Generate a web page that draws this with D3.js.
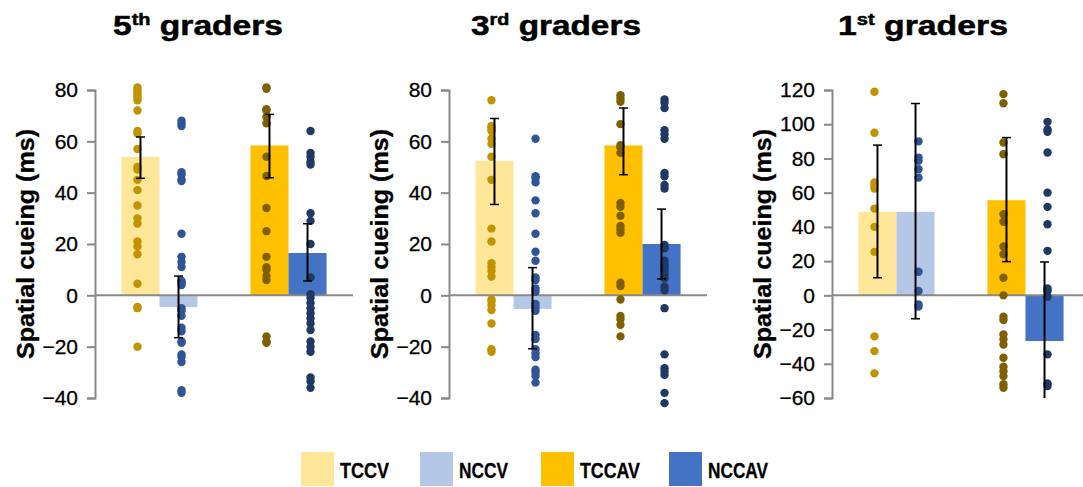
<!DOCTYPE html>
<html>
<head>
<meta charset="utf-8">
<script src="https://cdn.jsdelivr.net/npm/d3@7"></script>
<style>
  body { margin: 0; background: #fff; }
  svg { display: block; }
</style>
</head>
<body>
<svg id="chart" width="1083" height="487"></svg>
<script>
// ---- data ----
var grades = ['5', '3', '1'];
var gradeSups = ['th', 'rd', 'st'];
var conditions = ['CV', 'CAV'];
var seriesNames = ['TCCV', 'NCCV', 'TCCAV', 'NCCAV'];

var yDomains = [[-40, 80], [-40, 80], [-60, 120]];
var tickValues = [
  [-40, -20, 0, 20, 40, 60, 80],
  [-40, -20, 0, 20, 40, 60, 80],
  [-60, -40, -20, 0, 20, 40, 60, 80, 100, 120]
];

// bar means per panel, order TCCV, NCCV, TCCAV, NCCAV
var means5 = [54, -4.6, 58.4, 16.5];
var means3 = [52.4, -5.3, 58.4, 20];
var means1 = [48.8, 48.8, 55.6, -26.7];

// error bar [low, high]
var err5 = [[45.6, 61.7], [-16.5, 7.5], [45.8, 70.5], [5.6, 27.9]];
var err3 = [[35.4, 68.9], [-20.8, 10.8], [47, 73], [6.4, 33.6]];
var err1 = [[10.3, 87.8], [-13.7, 112.1], [19.7, 92.2], [-73, 19.5]];

// individual children
var dots5 = [
  [81, 80, 79, 78, 77, 76, 72, 64, 63, 57, 50, 49, 45, 41, 35, 30, 28, 21, 19, 16, 4.5, -4.5, -5, -20],
  [68, 67, 66, 48, 47, 45, 44.5, 24, 15, 13, 11, 5.6, 5, 4, -5, -6, -8, -12.6, -14, -18, -18.5, -23, -24, -26, -37, -38],
  [81, 80.5, 72.5, 72, 69.5, 67, 54, 46.5, 34, 25, 15, 11, 10, 7.5, 6, -16, -18, -18.5],
  [64, 55.5, 54, 52, 51, 32, 29, 20, 7, 0.4, -1, -3, -5, -7, -9, -11, -13.5, -18, -20, -22, -32, -33.5, -36]
];
var dots3 = [
  [76, 66, 65, 64, 61, 59, 54, 45, 26, 21, 12.5, 11, 9.5, 7.3, -1.6, -2.5, -4, -5.7, -11, -21, -22],
  [61, 46.4, 45.5, 44, 37, 32, 24, 17, 13.5, 7, 6, 2.7, 1.4, -3.4, -4.7, -6, -15.4, -17, -21, -22.6, -24, -29, -30, -31.4, -34],
  [78, 76.7, 75.4, 66.7, 58.5, 57.6, 55.5, 36, 34.5, 31, 27, 25.7, 24.4, 4.9, 3.6, -1.6, -8, -9.3, -11.5, -16],
  [76.3, 75, 73, 64.3, 62.8, 61, 47.7, 46.4, 43, 41.6, 19.6, 18.3, 13.5, 12, 11, 9.6, 8, 6.6, 3.4, 2, -5, -23, -28.4, -29.7, -31, -38, -42]
];
var dots1 = [
  [119, 95, 66, 64.4, 62.4, 50.7, 40, 25.4, -24, -32.6, -45.6],
  [90, 80.5, 78.6, 73.7, 68.8, 13.8, 2.5, -5.3, -6.6],
  [117.6, 112.3, 89.3, 82.5, 47.4, 43, 28.5, 24, 10.3, 0, -12.5, -14.4, -22.8, -25.7, -28.7, -36.5, -41.7, -44.3, -47.2, -52, -54],
  [101.4, 97, 95.6, 83.5, 60, 51.7, 41.5, 26, 4, 2.5, -0.8, -34.5, -51.5, -53]
];

var barColors = ['#FFE699', '#B4C7E7', '#FFC000', '#4472C4'];
var dotColors = ['#C29300', '#2F5597', '#7F6000', '#203864'];

// ---- layout ----
var axisXs = [95, 449, 832];
var titleCenters = [198, 556, 923];
var plotW = 258;
var yTop = 90;
var yBottom = 398;
var axisGrey = '#898989';
var fontFamily = '"Liberation Sans", Arial, sans-serif';

var panels = [
  { means: means5, err: err5, dots: dots5 },
  { means: means3, err: err3, dots: dots3 },
  { means: means1, err: err1, dots: dots1 }
];

var svg = d3.select('#chart');

panels.forEach(function(p, i) {
  var ax = axisXs[i];
  var g = svg.append('g').attr('class', 'panel panel-' + i);

  var y = d3.scaleLinear().domain(yDomains[i]).range([yBottom, yTop]);
  var x0 = d3.scaleBand()
    .domain(conditions)
    .range([ax, ax + plotW])
    .paddingInner(0.41)
    .paddingOuter(0.205);
  var x1 = d3.scaleBand().domain([0, 1]).range([0, x0.bandwidth()]);

  var items = seriesNames.map(function(name, s) {
    var left = x0(conditions[s < 2 ? 0 : 1]) + x1(s % 2);
    return {
      s: s,
      left: left,
      cx: left + x1.bandwidth() / 2,
      mean: p.means[s],
      err: p.err[s],
      dots: p.dots[s]
    };
  });

  // bars
  g.selectAll('rect.bar')
    .data(items)
    .enter().append('rect')
    .attr('class', 'bar')
    .attr('x', function(d) { return d.left; })
    .attr('width', x1.bandwidth())
    .attr('y', function(d) { return Math.min(y(d.mean), y(0)); })
    .attr('height', function(d) { return Math.abs(y(d.mean) - y(0)); })
    .attr('fill', function(d) { return barColors[d.s]; });

  // y axis
  var axis = g.append('g')
    .attr('transform', 'translate(' + ax + ',0)')
    .call(d3.axisLeft(y).tickValues(tickValues[i]).tickSize(8).tickSizeOuter(8).tickPadding(9));
  axis.select('.domain').attr('stroke', axisGrey).attr('stroke-width', 2);
  axis.selectAll('.tick line').attr('stroke', axisGrey).attr('stroke-width', 2);
  axis.selectAll('.tick text')
    .attr('fill', '#000')
    .attr('stroke', '#000')
    .attr('stroke-width', 0.3)
    .style('font-family', fontFamily)
    .style('font-size', '21px');

  // zero line
  g.append('line')
    .attr('x1', ax)
    .attr('x2', ax + plotW)
    .attr('y1', y(0))
    .attr('y2', y(0))
    .attr('stroke', axisGrey)
    .attr('stroke-width', 2);

  // dots
  items.forEach(function(d) {
    var off = d.s % 2 === 0 ? -3 : 3;
    g.selectAll(null)
      .data(d.dots)
      .enter().append('circle')
      .attr('cx', d.cx + off)
      .attr('cy', function(v) { return y(v); })
      .attr('r', 4.2)
      .attr('fill', dotColors[d.s]);
  });

  // error bars (lower end clipped to the axis minimum)
  var lo = yDomains[i][0];
  items.forEach(function(d) {
    var e = g.append('g').attr('class', 'err');
    var yl = y(Math.max(d.err[0], lo));
    var yh = y(d.err[1]);
    e.append('line')
      .attr('x1', d.cx).attr('x2', d.cx)
      .attr('y1', yl).attr('y2', yh)
      .attr('stroke', '#000').attr('stroke-width', 2);
    [yh].concat(d.err[0] >= lo ? [yl] : []).forEach(function(yy) {
      e.append('line')
        .attr('x1', d.cx - 4.5).attr('x2', d.cx + 4.5)
        .attr('y1', yy).attr('y2', yy)
        .attr('stroke', '#000').attr('stroke-width', 1.5);
    });
  });

  // y label
  var minTickX = d3.min(axis.selectAll('.tick text').nodes(), function(n) {
    return n.getBBox().x;
  });
  g.append('text')
    .attr('transform', 'translate(' + (ax + minTickX - 16) + ',' + 244 + ') rotate(-90)')
    .attr('text-anchor', 'middle')
    .attr('dominant-baseline', 'central')
    .attr('textLength', 230)
    .attr('lengthAdjust', 'spacingAndGlyphs')
    .attr('stroke', '#000')
    .attr('stroke-width', 0.3)
    .style('font-family', fontFamily)
    .style('font-weight', 'bold')
    .style('font-size', '23px')
    .text('Spatial cueing (ms)');

  // title
  var title = g.append('text')
    .attr('text-anchor', 'middle')
    .attr('stroke', '#000')
    .attr('stroke-width', 0.5)
    .style('font-family', fontFamily)
    .style('font-weight', 'bold')
    .style('font-size', '27px');
  title.append('tspan').text(grades[i]);
  title.append('tspan').attr('dy', -10).style('font-size', '16px').text(gradeSups[i]);
  title.append('tspan').attr('dy', 10).text(' graders');
  var tw = title.node().getBBox().width;
  title.attr('transform', 'translate(' + titleCenters[i] + ',35) scale(' + (170 / tw) + ',1)');
});

// legend
var legendXs = [301, 420, 541, 669];
var legend = svg.append('g').attr('class', 'legend');
seriesNames.forEach(function(name, s) {
  legend.append('rect')
    .attr('x', legendXs[s])
    .attr('y', 452)
    .attr('width', 33)
    .attr('height', 34)
    .attr('fill', barColors[s]);
  legend.append('text')
    .attr('x', legendXs[s] + 39)
    .attr('y', 477.5)
    .attr('textLength', name.length === 4 ? 49 : 60)
    .attr('lengthAdjust', 'spacingAndGlyphs')
    .attr('stroke', '#000')
    .attr('stroke-width', 0.3)
    .style('font-family', fontFamily)
    .style('font-weight', 'bold')
    .style('font-size', '22px')
    .text(name);
});
</script>
</body>
</html>
